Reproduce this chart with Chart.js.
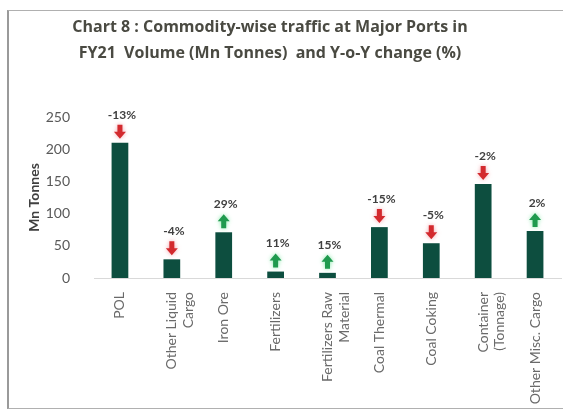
<!DOCTYPE html>
<html>
<head>
<meta charset="utf-8">
<script src="https://cdn.jsdelivr.net/npm/chart.js@4"></script>
<style>
  body { margin: 0; background: #fff; }
  #wrap { position: relative; width: 563px; height: 411px; overflow: hidden; }
  #frame { position: absolute; left: 7px; top: 10px; width: 600px; height: 397px;
           border-left: 2px solid #9a9a9a; border-top: 1px solid #b0b0b0; border-bottom: 1px solid #b0b0b0; }
  #title { position: absolute; left: 20px; width: 500px; top: 13px; text-align: center;
           font: bold 16px "Open Sans", sans-serif; line-height: 26px; color: #4a4a42; }
  canvas { position: absolute; left: 0; top: 0; }
</style>
</head>
<body>
<div id="wrap">
  <div id="frame"></div>
  <canvas id="myChart" width="563" height="411"></canvas>
  <div id="title">Chart 8 : Commodity-wise traffic at Major Ports in<br>FY21&nbsp; Volume (Mn Tonnes)&nbsp; and Y-o-Y change (%)</div>
</div>
<script>
const categories = ['POL', ['Other Liquid', 'Cargo'], 'Iron Ore', 'Fertilizers', ['Fertilizers Raw', 'Material'],
    'Coal Thermal', 'Coal Coking', ['Container', '(Tonnage)'], 'Other Misc. Cargo'];
const volumes = [210, 29, 71, 10, 8, 79, 54, 146, 73]; // Mn Tonnes
const yoyChange = [-13, -4, 29, 11, 15, -15, -5, -2, 2]; // Y-o-Y %

// red/green arrow + % label above each bar
const arrowPlugin = {
    id: 'yoyArrows',
    afterDatasetsDraw(chart) {
        const c = chart.ctx;
        const meta = chart.getDatasetMeta(0);
        meta.data.forEach((bar, i) => {
            const up = yoyChange[i] >= 0;
            const x = bar.x, top = bar.y - 4;
            const h = 14, hw = 6, sw = 2.5, headH = 7;
            c.save();
            c.fillStyle = up ? '#1f9a4e' : '#d32a2e';
            c.shadowColor = up ? 'rgba(120,230,160,0.9)' : 'rgba(240,140,150,0.8)';
            c.shadowBlur = 4;
            c.beginPath();
            if (up) {
                c.moveTo(x, top - h);
                c.lineTo(x + hw, top - h + headH);
                c.lineTo(x + sw, top - h + headH);
                c.lineTo(x + sw, top);
                c.lineTo(x - sw, top);
                c.lineTo(x - sw, top - h + headH);
                c.lineTo(x - hw, top - h + headH);
            } else {
                c.moveTo(x, top);
                c.lineTo(x + hw, top - headH);
                c.lineTo(x + sw, top - headH);
                c.lineTo(x + sw, top - h);
                c.lineTo(x - sw, top - h);
                c.lineTo(x - sw, top - headH);
                c.lineTo(x - hw, top - headH);
            }
            c.closePath();
            c.fill();
            c.restore();
            c.save();
            c.fillStyle = '#404040';
            c.font = 'bold 12px Lato, sans-serif';
            c.textAlign = 'center';
            c.textBaseline = 'bottom';
            c.fillText(yoyChange[i] + '%', x + 2, top - h - 4);
            c.restore();
        });
    }
};

new Chart(document.getElementById('myChart').getContext('2d'), {
    type: 'bar',
    data: {
        labels: categories,
        datasets: [{
            data: volumes,
            backgroundColor: '#0d4e3f',
            barPercentage: 0.62,
            categoryPercentage: 0.52,
        }],
    },
    options: {
        responsive: false,
        animation: false,
        layout: { padding: { left: 22, right: 2, top: 117, bottom: 0 } },
        plugins: {
            legend: { display: false },
            tooltip: { enabled: false },
        },
        scales: {
            x: {
                grid: { display: false },
                border: { display: true, color: '#d9d9d9' },
                ticks: {
                    color: '#6a6a6a',
                    font: { family: 'Lato', size: 14 },
                    minRotation: 90,
                    maxRotation: 90,
                    padding: 6,
                    autoSkip: false,
                },
                afterFit(s) { s.height = 133; },
            },
            y: {
                min: 0,
                max: 250,
                grid: { display: false },
                border: { display: false },
                ticks: {
                    stepSize: 50,
                    color: '#595959',
                    font: { family: 'Lato', size: 14 },
                    padding: 16,
                },
                title: {
                    display: true,
                    text: 'Mn Tonnes', // Y-axis title
                    color: '#404040',
                    font: { family: 'Lato', size: 14, weight: 'bold' },
                },
                afterFit(s) { s.width = 72; },
            },
        },
    },
    plugins: [arrowPlugin],
});
</script>
</body>
</html>
